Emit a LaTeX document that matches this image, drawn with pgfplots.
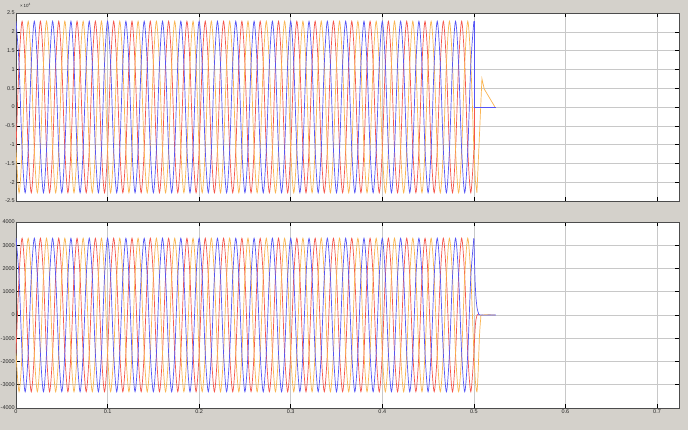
\documentclass[border=0pt]{standalone}
\usepackage{pgfplots}
\pgfplotsset{compat=1.18}
\usepackage{pgfplotstable}
\usepackage{fontspec}
\setmainfont{Liberation Sans}
\definecolor{bggray}{RGB}{212,209,203}
\definecolor{gridgray}{RGB}{200,200,200}
\definecolor{phaseblue}{RGB}{85,85,245}
\definecolor{phasered}{RGB}{245,85,75}
\definecolor{phaseorange}{RGB}{250,180,80}

\pgfplotstableread{
t b r o B R O
0 2.28 -1.14 -1.14 3300 -1650 -1650
0.00333 1.14 1.14 -2.28 1650 1650 -3300
0.00667 -1.14 2.28 -1.14 -1650 3300 -1650
0.01 -2.28 1.14 1.14 -3300 1650 1650
0.01333 -1.14 -1.14 2.28 -1650 -1650 3300
0.01667 1.14 -2.28 1.14 1650 -3300 1650
0.02 2.28 -1.14 -1.14 3300 -1650 -1650
0.02333 1.14 1.14 -2.28 1650 1650 -3300
0.02667 -1.14 2.28 -1.14 -1650 3300 -1650
0.03 -2.28 1.14 1.14 -3300 1650 1650
0.03333 -1.14 -1.14 2.28 -1650 -1650 3300
0.03667 1.14 -2.28 1.14 1650 -3300 1650
0.04 2.28 -1.14 -1.14 3300 -1650 -1650
0.04333 1.14 1.14 -2.28 1650 1650 -3300
0.04667 -1.14 2.28 -1.14 -1650 3300 -1650
0.05 -2.28 1.14 1.14 -3300 1650 1650
0.05333 -1.14 -1.14 2.28 -1650 -1650 3300
0.05667 1.14 -2.28 1.14 1650 -3300 1650
0.06 2.28 -1.14 -1.14 3300 -1650 -1650
0.06333 1.14 1.14 -2.28 1650 1650 -3300
0.06667 -1.14 2.28 -1.14 -1650 3300 -1650
0.07 -2.28 1.14 1.14 -3300 1650 1650
0.07333 -1.14 -1.14 2.28 -1650 -1650 3300
0.07667 1.14 -2.28 1.14 1650 -3300 1650
0.08 2.28 -1.14 -1.14 3300 -1650 -1650
0.08333 1.14 1.14 -2.28 1650 1650 -3300
0.08667 -1.14 2.28 -1.14 -1650 3300 -1650
0.09 -2.28 1.14 1.14 -3300 1650 1650
0.09333 -1.14 -1.14 2.28 -1650 -1650 3300
0.09667 1.14 -2.28 1.14 1650 -3300 1650
0.10 2.28 -1.14 -1.14 3300 -1650 -1650
0.10333 1.14 1.14 -2.28 1650 1650 -3300
0.10667 -1.14 2.28 -1.14 -1650 3300 -1650
0.11 -2.28 1.14 1.14 -3300 1650 1650
0.11333 -1.14 -1.14 2.28 -1650 -1650 3300
0.11667 1.14 -2.28 1.14 1650 -3300 1650
0.12 2.28 -1.14 -1.14 3300 -1650 -1650
0.12333 1.14 1.14 -2.28 1650 1650 -3300
0.12667 -1.14 2.28 -1.14 -1650 3300 -1650
0.13 -2.28 1.14 1.14 -3300 1650 1650
0.13333 -1.14 -1.14 2.28 -1650 -1650 3300
0.13667 1.14 -2.28 1.14 1650 -3300 1650
0.14 2.28 -1.14 -1.14 3300 -1650 -1650
0.14333 1.14 1.14 -2.28 1650 1650 -3300
0.14667 -1.14 2.28 -1.14 -1650 3300 -1650
0.15 -2.28 1.14 1.14 -3300 1650 1650
0.15333 -1.14 -1.14 2.28 -1650 -1650 3300
0.15667 1.14 -2.28 1.14 1650 -3300 1650
0.16 2.28 -1.14 -1.14 3300 -1650 -1650
0.16333 1.14 1.14 -2.28 1650 1650 -3300
0.16667 -1.14 2.28 -1.14 -1650 3300 -1650
0.17 -2.28 1.14 1.14 -3300 1650 1650
0.17333 -1.14 -1.14 2.28 -1650 -1650 3300
0.17667 1.14 -2.28 1.14 1650 -3300 1650
0.18 2.28 -1.14 -1.14 3300 -1650 -1650
0.18333 1.14 1.14 -2.28 1650 1650 -3300
0.18667 -1.14 2.28 -1.14 -1650 3300 -1650
0.19 -2.28 1.14 1.14 -3300 1650 1650
0.19333 -1.14 -1.14 2.28 -1650 -1650 3300
0.19667 1.14 -2.28 1.14 1650 -3300 1650
0.20 2.28 -1.14 -1.14 3300 -1650 -1650
0.20333 1.14 1.14 -2.28 1650 1650 -3300
0.20667 -1.14 2.28 -1.14 -1650 3300 -1650
0.21 -2.28 1.14 1.14 -3300 1650 1650
0.21333 -1.14 -1.14 2.28 -1650 -1650 3300
0.21667 1.14 -2.28 1.14 1650 -3300 1650
0.22 2.28 -1.14 -1.14 3300 -1650 -1650
0.22333 1.14 1.14 -2.28 1650 1650 -3300
0.22667 -1.14 2.28 -1.14 -1650 3300 -1650
0.23 -2.28 1.14 1.14 -3300 1650 1650
0.23333 -1.14 -1.14 2.28 -1650 -1650 3300
0.23667 1.14 -2.28 1.14 1650 -3300 1650
0.24 2.28 -1.14 -1.14 3300 -1650 -1650
0.24333 1.14 1.14 -2.28 1650 1650 -3300
0.24667 -1.14 2.28 -1.14 -1650 3300 -1650
0.25 -2.28 1.14 1.14 -3300 1650 1650
0.25333 -1.14 -1.14 2.28 -1650 -1650 3300
0.25667 1.14 -2.28 1.14 1650 -3300 1650
0.26 2.28 -1.14 -1.14 3300 -1650 -1650
0.26333 1.14 1.14 -2.28 1650 1650 -3300
0.26667 -1.14 2.28 -1.14 -1650 3300 -1650
0.27 -2.28 1.14 1.14 -3300 1650 1650
0.27333 -1.14 -1.14 2.28 -1650 -1650 3300
0.27667 1.14 -2.28 1.14 1650 -3300 1650
0.28 2.28 -1.14 -1.14 3300 -1650 -1650
0.28333 1.14 1.14 -2.28 1650 1650 -3300
0.28667 -1.14 2.28 -1.14 -1650 3300 -1650
0.29 -2.28 1.14 1.14 -3300 1650 1650
0.29333 -1.14 -1.14 2.28 -1650 -1650 3300
0.29667 1.14 -2.28 1.14 1650 -3300 1650
0.30 2.28 -1.14 -1.14 3300 -1650 -1650
0.30333 1.14 1.14 -2.28 1650 1650 -3300
0.30667 -1.14 2.28 -1.14 -1650 3300 -1650
0.31 -2.28 1.14 1.14 -3300 1650 1650
0.31333 -1.14 -1.14 2.28 -1650 -1650 3300
0.31667 1.14 -2.28 1.14 1650 -3300 1650
0.32 2.28 -1.14 -1.14 3300 -1650 -1650
0.32333 1.14 1.14 -2.28 1650 1650 -3300
0.32667 -1.14 2.28 -1.14 -1650 3300 -1650
0.33 -2.28 1.14 1.14 -3300 1650 1650
0.33333 -1.14 -1.14 2.28 -1650 -1650 3300
0.33667 1.14 -2.28 1.14 1650 -3300 1650
0.34 2.28 -1.14 -1.14 3300 -1650 -1650
0.34333 1.14 1.14 -2.28 1650 1650 -3300
0.34667 -1.14 2.28 -1.14 -1650 3300 -1650
0.35 -2.28 1.14 1.14 -3300 1650 1650
0.35333 -1.14 -1.14 2.28 -1650 -1650 3300
0.35667 1.14 -2.28 1.14 1650 -3300 1650
0.36 2.28 -1.14 -1.14 3300 -1650 -1650
0.36333 1.14 1.14 -2.28 1650 1650 -3300
0.36667 -1.14 2.28 -1.14 -1650 3300 -1650
0.37 -2.28 1.14 1.14 -3300 1650 1650
0.37333 -1.14 -1.14 2.28 -1650 -1650 3300
0.37667 1.14 -2.28 1.14 1650 -3300 1650
0.38 2.28 -1.14 -1.14 3300 -1650 -1650
0.38333 1.14 1.14 -2.28 1650 1650 -3300
0.38667 -1.14 2.28 -1.14 -1650 3300 -1650
0.39 -2.28 1.14 1.14 -3300 1650 1650
0.39333 -1.14 -1.14 2.28 -1650 -1650 3300
0.39667 1.14 -2.28 1.14 1650 -3300 1650
0.40 2.28 -1.14 -1.14 3300 -1650 -1650
0.40333 1.14 1.14 -2.28 1650 1650 -3300
0.40667 -1.14 2.28 -1.14 -1650 3300 -1650
0.41 -2.28 1.14 1.14 -3300 1650 1650
0.41333 -1.14 -1.14 2.28 -1650 -1650 3300
0.41667 1.14 -2.28 1.14 1650 -3300 1650
0.42 2.28 -1.14 -1.14 3300 -1650 -1650
0.42333 1.14 1.14 -2.28 1650 1650 -3300
0.42667 -1.14 2.28 -1.14 -1650 3300 -1650
0.43 -2.28 1.14 1.14 -3300 1650 1650
0.43333 -1.14 -1.14 2.28 -1650 -1650 3300
0.43667 1.14 -2.28 1.14 1650 -3300 1650
0.44 2.28 -1.14 -1.14 3300 -1650 -1650
0.44333 1.14 1.14 -2.28 1650 1650 -3300
0.44667 -1.14 2.28 -1.14 -1650 3300 -1650
0.45 -2.28 1.14 1.14 -3300 1650 1650
0.45333 -1.14 -1.14 2.28 -1650 -1650 3300
0.45667 1.14 -2.28 1.14 1650 -3300 1650
0.46 2.28 -1.14 -1.14 3300 -1650 -1650
0.46333 1.14 1.14 -2.28 1650 1650 -3300
0.46667 -1.14 2.28 -1.14 -1650 3300 -1650
0.47 -2.28 1.14 1.14 -3300 1650 1650
0.47333 -1.14 -1.14 2.28 -1650 -1650 3300
0.47667 1.14 -2.28 1.14 1650 -3300 1650
0.48 2.28 -1.14 -1.14 3300 -1650 -1650
0.48333 1.14 1.14 -2.28 1650 1650 -3300
0.48667 -1.14 2.28 -1.14 -1650 3300 -1650
0.49 -2.28 1.14 1.14 -3300 1650 1650
0.49333 -1.14 -1.14 2.28 -1650 -1650 3300
0.49667 1.14 -2.28 1.14 1650 -3300 1650
0.5 2.28 -1.14 -1.14 3300 -1650 -1650
}\wave

\pgfplotsset{scopestyle/.style={
  scale only axis, anchor=south west,
  xmin=0, xmax=0.724,
  xtick={0,0.1,0.2,0.3,0.4,0.5,0.6,0.7},
  grid=major, major grid style={gridgray, line width=0.5pt},
  tick align=inside, major tick length=4pt,
  tick style={black, line width=0.5pt},
  axis line style={black!70, line width=0.6pt},
  axis background/.style={fill=white},
  tick label style={font=\fontsize{5.5}{6}\selectfont, text=black!85},
  yticklabel style={inner sep=1pt},
  xticklabel style={inner sep=1.5pt},
  /pgf/number format/assume math mode=true,
  /pgf/number format/1000 sep={},
  scaled ticks=false,
  every axis plot/.append style={line width=0.7pt, no markers},
}}

\begin{document}
\begin{tikzpicture}
\fill[bggray] (0pt,0pt) rectangle (688pt,430pt);

\begin{axis}[scopestyle, at={(16pt,229pt)}, width=663pt, height=188pt,
  ymin=-2.5, ymax=2.5,
  ytick={-2.5,-2,-1.5,-1,-0.5,0,0.5,1,1.5,2,2.5},
  xticklabels={}]
\addplot[color=phasered, smooth] table[x=t, y=r] {\wave};
\addplot[color=phaseorange, smooth] table[x=t, y=o] {\wave};
\addplot[color=phaseblue, smooth] table[x=t, y=b] {\wave};
\addplot[color=phasered] coordinates {(0.5,-1.14) (0.5,0)};
\addplot[color=phaseorange] coordinates {(0.5,-1.14) (0.50167,-1.97) (0.50333,-2.28) (0.5088,0.75) (0.5113,0.48) (0.523,0)};
\addplot[color=phaseblue] coordinates {(0.5,2.28) (0.5,0) (0.524,0)};
\end{axis}

\begin{axis}[scopestyle, at={(16pt,22pt)}, width=663pt, height=186pt,
  ymin=-4000, ymax=4000,
  ytick={-4000,-3000,-2000,-1000,0,1000,2000,3000,4000}]
\addplot[color=phasered, smooth] table[x=t, y=R] {\wave};
\addplot[color=phaseorange, smooth] table[x=t, y=O] {\wave};
\addplot[color=phaseblue, smooth] table[x=t, y=B] {\wave};
\addplot[color=phasered, smooth] coordinates {(0.5,-1650) (0.5017,-400) (0.5035,0) (0.505,0)};
\addplot[color=phaseorange, smooth] coordinates {(0.5,-1650) (0.50167,-2850) (0.50333,-3300) (0.5045,-2600) (0.506,-1000) (0.5075,-150) (0.509,0) (0.523,0)};
\addplot[color=phaseblue, smooth] coordinates {(0.5,3300) (0.5012,1600) (0.5022,800) (0.5035,300) (0.505,80) (0.507,0) (0.524,0)};
\end{axis}

\node[anchor=west, font=\fontsize{4.5}{5}\selectfont, text=black!85, inner sep=0pt] at (20pt,425pt) {×\,10\textsuperscript{4}};

\pgfresetboundingbox
\useasboundingbox (0pt,0pt) rectangle (688pt,430pt);
\end{tikzpicture}
\end{document}
